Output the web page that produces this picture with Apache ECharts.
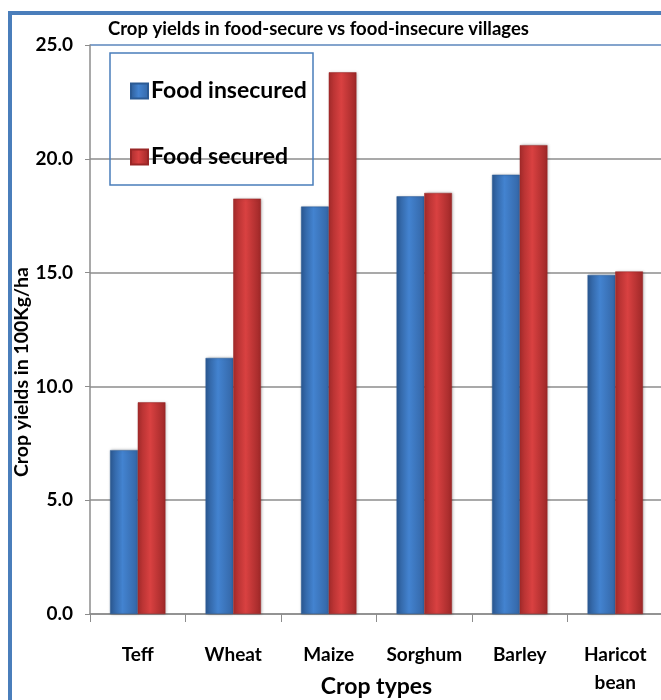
<!DOCTYPE html>
<html>
<head>
<meta charset="utf-8">
<script src="https://cdn.jsdelivr.net/npm/echarts@6/dist/echarts.min.js"></script>
<style>
  html, body { margin: 0; padding: 0; background: #fff; }
  #main { width: 661px; height: 700px; }
</style>
</head>
<body>
<div id="main"></div>
<script>
const crops = ['Teff', 'Wheat', 'Maize', 'Sorghum', 'Barley', 'Haricot\nbean'];
const foodInsecured = [7.2, 11.25, 17.9, 18.35, 19.3, 14.9];
const foodSecured = [9.3, 18.25, 23.8, 18.5, 20.6, 15.05];

const chart = echarts.init(document.getElementById('main'));

// horizontal shading like the office-style bevelled bars
const blueFill = new echarts.graphic.LinearGradient(0, 0, 1, 0, [
  { offset: 0, color: '#2c5a94' },
  { offset: 0.45, color: '#4383d0' },
  { offset: 1, color: '#3466a6' }
]);
const redFill = new echarts.graphic.LinearGradient(0, 0, 1, 0, [
  { offset: 0, color: '#a82c2c' },
  { offset: 0.45, color: '#d94141' },
  { offset: 1, color: '#9e2828' }
]);

const boldFont = 'Lato, "Open Sans", sans-serif';

chart.setOption({
  backgroundColor: '#fff',
  animation: false,
  title: {
    text: 'Crop yields in food-secure vs food-insecure villages',
    left: 103,
    top: 15,
    textStyle: { fontFamily: boldFont, fontWeight: 'bold', fontSize: 18.5, color: '#000' }
  },
  graphic: [
    {
      type: 'rect',
      shape: { x: 10, y: 13, width: 700, height: 720 },
      style: { fill: 'none', stroke: '#4a7ebb', lineWidth: 4 },
      silent: true
    },
    {
      type: 'rect',
      shape: { x: 110, y: 53, width: 203, height: 132 },
      style: { fill: 'none', stroke: '#4a7ebb', lineWidth: 1.5 },
      silent: true,
      z: 10
    },
    {
      // y-axis title, sits lower than the plot centre in the original
      type: 'text',
      x: 22,
      y: 372,
      rotation: Math.PI / 2,
      style: {
        text: 'Crop yields in 100Kg/ha',
        fontFamily: boldFont,
        fontWeight: 'bold',
        fontSize: 19.5,
        fill: '#000',
        align: 'center',
        verticalAlign: 'middle'
      },
      silent: true
    }
  ],
  legend: {
    orient: 'vertical',
    left: 125,
    top: 74,
    itemGap: 42,
    itemWidth: 17,
    itemHeight: 15,
    icon: 'rect',
    textStyle: { fontFamily: boldFont, fontWeight: 'bold', fontSize: 23, lineHeight: 24, color: '#000', padding: [0, 0, 0, -2] },
    data: ['Food insecured', 'Food secured']
  },
  grid: { left: 90, right: -2, top: 45, bottom: 86, containLabel: false, outerBoundsMode: 'none' },
  xAxis: {
    type: 'category',
    data: crops,
    name: 'Crop types',
    nameLocation: 'middle',
    nameGap: 61,
    nameMoveOverlap: false,
    nameTextStyle: { fontFamily: boldFont, fontWeight: 'bold', fontSize: 23, color: '#000' },
    axisLine: { lineStyle: { color: '#8c8c8c', width: 1.5 } },
    axisTick: { show: true, length: 8, lineStyle: { color: '#8c8c8c' } },
    axisLabel: {
      interval: 0,
      margin: 27,
      fontFamily: boldFont,
      fontWeight: 'bold',
      fontSize: 19,
      color: '#000',
      lineHeight: 28,
      verticalAlign: 'top'
    }
  },
  yAxis: {
    type: 'value',
    min: 0,
    max: 25,
    interval: 5,
    axisLine: { show: true, lineStyle: { color: '#8c8c8c', width: 1.5 } },
    axisTick: { show: true, length: 5, lineStyle: { color: '#8c8c8c' } },
    axisLabel: {
      margin: 17,
      fontFamily: boldFont,
      fontWeight: 'bold',
      fontSize: 19,
      color: '#000',
      formatter: v => v.toFixed(1)
    },
    splitLine: {
      lineStyle: {
        color: ['#8c8c8c', '#8c8c8c', '#8c8c8c', '#8c8c8c', '#8c8c8c', '#5b86bd'],
        width: 1.5
      }
    }
  },
  series: [
    {
      name: 'Food insecured',
      type: 'bar',
      data: foodInsecured,
      barGap: '0%',
      barCategoryGap: '42%',
      itemStyle: {
        color: blueFill,
        borderColor: '#2b5a94',
        borderWidth: 0.5,
        shadowColor: 'rgba(0,0,0,0.25)',
        shadowBlur: 3,
        shadowOffsetX: 1
      }
    },
    {
      name: 'Food secured',
      type: 'bar',
      data: foodSecured,
      itemStyle: {
        color: redFill,
        borderColor: '#992626',
        borderWidth: 0.5,
        shadowColor: 'rgba(0,0,0,0.25)',
        shadowBlur: 3,
        shadowOffsetX: 1
      }
    }
  ]
});
</script>
</body>
</html>
